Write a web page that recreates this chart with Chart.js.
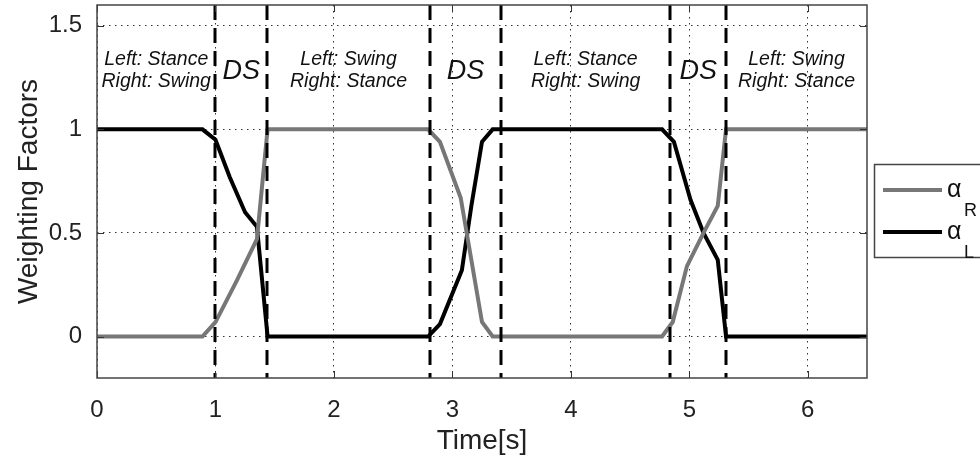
<!DOCTYPE html>
<html>
<head>
<meta charset="utf-8">
<script src="https://cdn.jsdelivr.net/npm/chart.js@4/dist/chart.umd.min.js"></script>
<style>
  html, body { margin: 0; padding: 0; background: #fff; }
</style>
</head>
<body>
<canvas id="weights" width="980" height="466"></canvas>
<script>
// alpha_R (grey) breakpoints
const timeR = [0, 0.89, 1.0, 1.18, 1.35, 1.44, 2.795, 2.895, 3.07, 3.25, 3.34, 4.77, 4.86, 4.98, 5.12, 5.24, 5.31, 6.5];
const alphaR = [0, 0, 0.07, 0.27, 0.47, 1, 1, 0.94, 0.67, 0.07, 0, 0, 0.07, 0.34, 0.5, 0.63, 1, 1];

// alpha_L (black) breakpoints
const timeL = [0, 0.89, 1.0, 1.12, 1.25, 1.35, 1.44, 2.795, 2.895, 3.08, 3.16, 3.25, 3.34, 4.77, 4.87, 5.01, 5.12, 5.24, 5.31, 6.5];
const alphaL = [1, 1, 0.95, 0.77, 0.6, 0.53, 0, 0, 0.06, 0.32, 0.63, 0.94, 1, 1, 0.94, 0.66, 0.5, 0.37, 0, 0];

// gait phase boundaries and the text written inside each phase
const phaseEdges = [1.0, 1.437, 2.81, 3.41, 4.84, 5.31];
const phaseLabels = [
    ["Left: Stance", "Right: Swing"],
    ["DS"],
    ["Left: Swing", "Right: Stance"],
    ["DS"],
    ["Left: Stance", "Right: Swing"],
    ["DS"],
    ["Left: Swing", "Right: Stance"],
];

const xTicks = [0, 1, 2, 3, 4, 5, 6];
const yTicks = [0, 0.5, 1, 1.5];
const seriesSymbol = "\u03b1";
const seriesSubs = ["R", "L"];
const seriesColors = ["#777777", "#000000"];

const FONT = "'Liberation Sans', Arial, sans-serif";

const overlay = {
    id: "overlay",
    afterDatasetsDraw: (chart) => {
        const ctx = chart.ctx;
        const { left, right, top, bottom } = chart.chartArea;
        const x = chart.scales.x;
        const y = chart.scales.y;
        ctx.save();

        // dashed phase boundaries
        ctx.strokeStyle = "#000";
        ctx.lineWidth = 3;
        ctx.setLineDash([15, 8]);
        phaseEdges.forEach((t) => {
            const px = Math.round(x.getPixelForValue(t));
            ctx.beginPath();
            ctx.moveTo(px, top);
            ctx.lineTo(px, bottom);
            ctx.stroke();
        });
        ctx.setLineDash([]);

        // phase text
        const bounds = [x.min, ...phaseEdges, x.max];
        ctx.fillStyle = "#111";
        ctx.textAlign = "center";
        ctx.textBaseline = "middle";
        phaseLabels.forEach((lines, i) => {
            const cx = x.getPixelForValue((bounds[i] + bounds[i + 1]) / 2);
            if (lines.length === 1) {
                ctx.font = "italic 27px " + FONT;
                ctx.fillText(lines[0], cx, y.getPixelForValue(1.28));
            } else {
                ctx.font = "italic 19.5px " + FONT;
                ctx.fillText(lines[0], cx, y.getPixelForValue(1.335));
                ctx.fillText(lines[1], cx, y.getPixelForValue(1.23));
            }
        });

        // inward tick marks
        ctx.strokeStyle = "#333";
        ctx.lineWidth = 1;
        xTicks.forEach((v) => {
            const px = Math.round(x.getPixelForValue(v)) + 0.5;
            ctx.beginPath();
            ctx.moveTo(px, bottom);
            ctx.lineTo(px, bottom - 7);
            ctx.moveTo(px, top);
            ctx.lineTo(px, top + 7);
            ctx.stroke();
        });
        yTicks.forEach((v) => {
            const py = Math.round(y.getPixelForValue(v)) + 0.5;
            ctx.beginPath();
            ctx.moveTo(left, py);
            ctx.lineTo(left + 7, py);
            ctx.moveTo(right, py);
            ctx.lineTo(right - 7, py);
            ctx.stroke();
        });

        // axes box
        ctx.strokeStyle = "#444";
        ctx.lineWidth = 1.5;
        ctx.strokeRect(left, top, right - left, bottom - top);
        ctx.restore();
    },
    afterDraw: (chart) => {
        const ctx = chart.ctx;
        ctx.save();
        // legend box (runs off the right edge like the original)
        ctx.strokeStyle = "#444";
        ctx.lineWidth = 1.5;
        ctx.strokeRect(874.5, 164.5, 120, 93);
        const rowY = [190, 232];
        chart.data.datasets.forEach((ds, i) => {
            const ly = rowY[i];
            ctx.strokeStyle = seriesColors[i];
            ctx.lineWidth = 4;
            ctx.beginPath();
            ctx.moveTo(883, ly);
            ctx.lineTo(942, ly);
            ctx.stroke();
            ctx.fillStyle = "#111";
            ctx.textAlign = "left";
            ctx.textBaseline = "alphabetic";
            ctx.font = "25px " + FONT;
            ctx.fillText(seriesSymbol, 947, ly + 7);
            ctx.font = "18px " + FONT;
            ctx.fillText(seriesSubs[i], 964, ly + 26);
        });
        ctx.restore();
    },
};

const chart = new Chart(document.getElementById("weights"), {
    type: "line",
    data: {
        datasets: [
            {
                label: seriesSymbol + seriesSubs[0],
                data: timeR.map((t, i) => ({ x: t, y: alphaR[i] })),
                borderColor: seriesColors[0],
                borderWidth: 4,
                pointRadius: 0,
                tension: 0,
            },
            {
                label: seriesSymbol + seriesSubs[1],
                data: timeL.map((t, i) => ({ x: t, y: alphaL[i] })),
                borderColor: seriesColors[1],
                borderWidth: 4,
                pointRadius: 0,
                tension: 0,
            },
        ],
    },
    options: {
        responsive: false,
        animation: false,
        devicePixelRatio: 1,
        layout: { padding: { top: 5, right: 113, left: 0, bottom: 0 } },
        plugins: {
            legend: { display: false },
            tooltip: { enabled: false },
        },
        scales: {
            x: {
                type: "linear",
                min: 0,
                max: 6.5,
                afterBuildTicks: (s) => {
                    s.ticks = xTicks.map((v) => ({ value: v }));
                },
                afterFit: (s) => {
                    s.height = 88;
                    s.paddingLeft = 0;
                    s.paddingRight = 0;
                },
                grid: { color: "#333", lineWidth: 1, drawTicks: false },
                border: { display: false, dash: [1.5, 4.5] },
                ticks: {
                    padding: 18,
                    color: "#222",
                    font: { size: 24, family: FONT },
                    callback: (v) => String(v),
                },
                title: {
                    display: true,
                    text: "Time[s]",
                    color: "#222",
                    font: { size: 28, family: FONT },
                    padding: { top: 0, bottom: 8 },
                },
            },
            y: {
                type: "linear",
                min: -0.2,
                max: 1.6,
                afterBuildTicks: (s) => {
                    s.ticks = yTicks.map((v) => ({ value: v }));
                },
                afterFit: (s) => {
                    s.width = 97;
                    s.paddingTop = 0;
                    s.paddingBottom = 0;
                },
                grid: { color: "#333", lineWidth: 1, drawTicks: false },
                border: { display: false, dash: [1.5, 4.5] },
                ticks: {
                    padding: 15,
                    color: "#222",
                    font: { size: 24, family: FONT },
                    callback: (v) => String(v),
                },
                title: {
                    display: true,
                    text: "Weighting Factors",
                    color: "#222",
                    font: { size: 28, family: FONT },
                    padding: { top: 12, bottom: 0 },
                },
            },
        },
    },
    plugins: [overlay],
});
</script>
</body>
</html>
